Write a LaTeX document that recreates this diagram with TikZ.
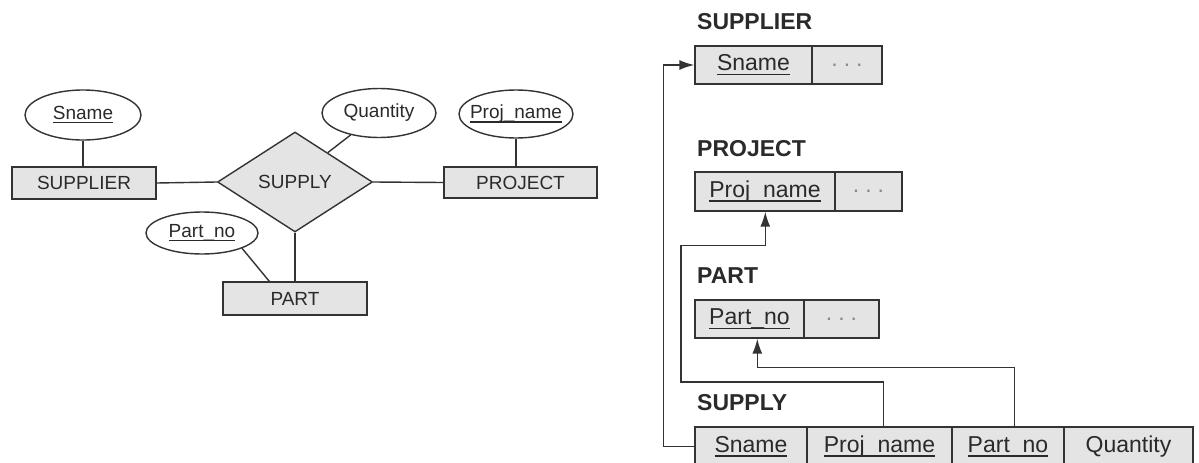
\documentclass[tikz,border=0pt]{standalone}
\usepackage{fontspec}
\setmainfont{Liberation Sans}
\usetikzlibrary{shapes.geometric,arrows.meta,calc}
\definecolor{ln}{HTML}{333333}
\definecolor{fl}{HTML}{E4E4E4}
\definecolor{tx}{HTML}{2A2A2A}
\definecolor{dotc}{HTML}{8A8A8A}
\newcommand{\ulkey}[1]{\setbox0\hbox{#1}\rlap{\rule[-0.19em]{\wd0}{0.065em}}\box0}
\newcommand{\cdts}{\textcolor{dotc}{.\hspace{6pt}.\hspace{6pt}.}}
\begin{document}
\begin{tikzpicture}[x=1pt,y=-1pt,
  every node/.style={text=tx},
  conn/.style={draw=ln,line width=1.4pt},
  ent/.style={draw=ln,fill=fl,line width=1.4pt,rectangle,inner sep=0pt,font=\fontsize{19}{22}\selectfont},
  rel/.style={draw=ln,fill=fl,line width=1.4pt,diamond,inner sep=0pt,minimum width=155pt,minimum height=100pt,font=\fontsize{19}{22}\selectfont},
  attr/.style={draw=ln,fill=white,line width=1.4pt,ellipse,inner sep=0pt},
  atxt/.style={inner sep=0pt,font=\fontsize{19}{22}\selectfont},
  cell/.style={draw=ln,fill=fl,line width=1.4pt,rectangle,inner sep=0pt,minimum height=39pt,font=\fontsize{23}{26}\selectfont},
  tlabel/.style={anchor=west,inner sep=0pt,font=\bfseries\fontsize{23}{26}\selectfont},
  fk/.style={draw=ln,line width=1.5pt,-{Latex[length=15pt,width=10pt]}}]
\useasboundingbox (0,0) rectangle (1199,463);
% ---------------- ER diagram ----------------
\node[attr,minimum width=116pt,minimum height=50pt] (snE) at (83,115) {};
\node[atxt] (snT) at (snE) {\ulkey{Sname}};
\node[ent,minimum width=144pt,minimum height=32pt] (supE) at (84,183) {SUPPLIER};
\node[rel] (supply) at (295,182) {SUPPLY};
\node[attr,minimum width=114pt,minimum height=49pt] (qtyE) at (379,113) {};
\node[atxt] (qtyT) at (qtyE) {Quantity};
\node[attr,minimum width=114pt,minimum height=48pt] (pnE) at (516,114) {};
\node[atxt] (pnT) at (pnE) {\ulkey{Proj\_name}};
\node[ent,minimum width=153pt,minimum height=31pt] (projE) at (520.5,182.5) {PROJECT};
\node[attr,minimum width=112pt,minimum height=42pt] (pnoE) at (202,233) {};
\node[atxt] (pnoT) at (pnoE) {\ulkey{Part\_no}};
\node[ent,minimum width=144pt,minimum height=33pt] (partE) at (295,298.5) {PART};

\draw[conn] (snE.south) -- (snE.south |- supE.north);
\draw[conn] (supE.east) -- (supply.west);
\draw[conn] (supply.east) -- (projE.west);
\draw[conn] ($(supply.north)!0.42!(supply.east)$) -- (qtyE);
\draw[conn] (pnE.south) -- (pnE.south |- projE.north);
\draw[conn] (supply.south) -- (supply.south |- partE.north);
\draw[conn] (pnoE.south east) -- ($(partE.north west)+(47,0)$);

% ---------------- Relational schema ----------------
\node[tlabel] (lSup) at (697,22) {SUPPLIER};
\node[tlabel] (lProj) at (697,149) {PROJECT};
\node[tlabel] (lPart) at (697,276) {PART};
\node[tlabel] (lSupply) at (697,403) {SUPPLY};

\node[cell,minimum width=117pt,minimum height=38pt] (s1) at (753.5,65) {\ulkey{Sname}};
\node[cell,minimum width=70pt,minimum height=38pt] (s2) at (847,65) {\cdts};

\node[cell,minimum width=140pt] (p1) at (765,191.5) {\ulkey{Proj\_name}};
\node[cell,minimum width=67pt] (p2) at (868.5,191.5) {\cdts};

\node[cell,minimum width=109pt,minimum height=38pt] (r1) at (749.5,319) {\ulkey{Part\_no}};
\node[cell,minimum width=75pt,minimum height=38pt] (r2) at (841.5,319) {\cdts};

\node[cell,minimum width=112pt] (c1) at (751,446.5) {\ulkey{Sname}};
\node[cell,minimum width=145pt] (c2) at (879.5,446.5) {\ulkey{Proj\_name}};
\node[cell,minimum width=112pt] (c3) at (1008,446.5) {\ulkey{Part\_no}};
\node[cell,minimum width=129pt] (c4) at (1128.5,446.5) {Quantity};

\coordinate (bendA) at (681,382);
\draw[fk] (c1.west) -- ++(-31,0) |- (s1.west);
\draw[fk] ($(c2.north west)+(77,0)$) |- (bendA) |- ($(p1.south west)+(71,34)$) -- ($(p1.south west)+(71,0)$);
\draw[fk] ($(c3.north west)+(63,0)$) |- ($(r1.south west)+(63,29)$) -- ($(r1.south west)+(63,0)$);
\end{tikzpicture}
\end{document}
